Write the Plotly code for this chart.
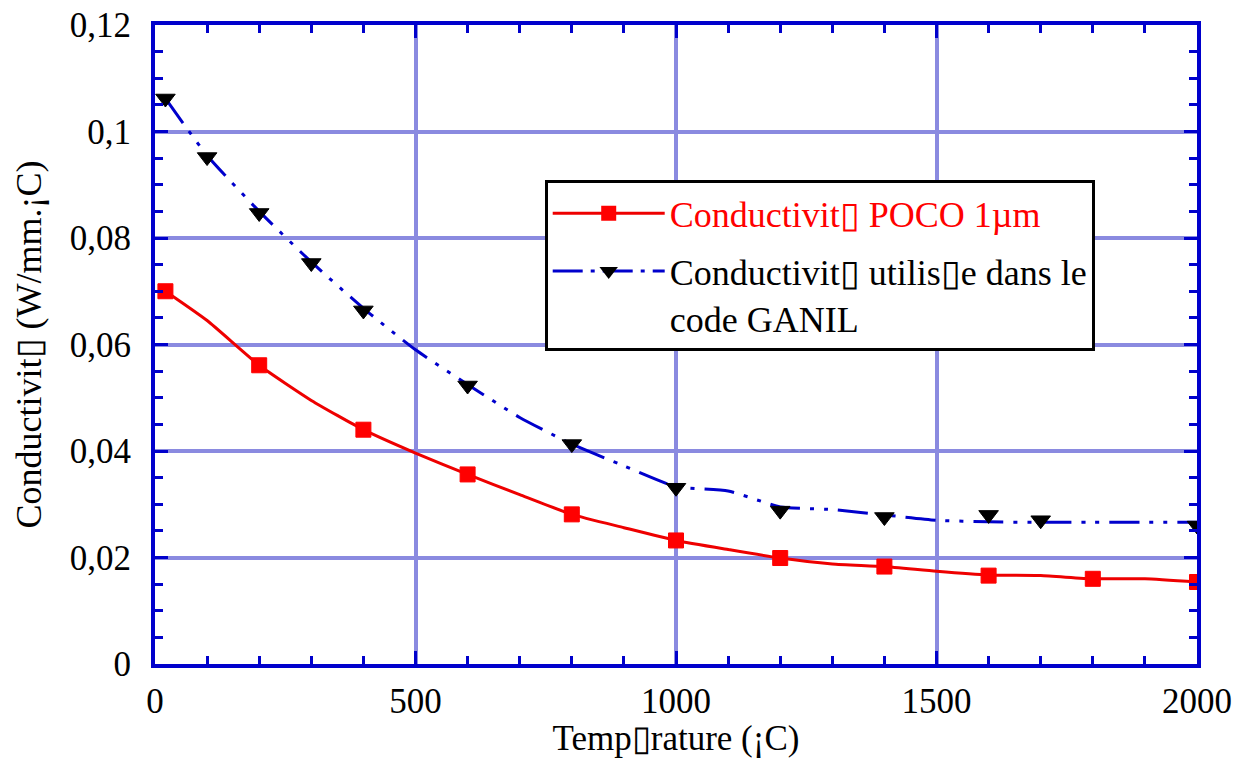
import plotly.graph_objects as go

# Red series: conductivity POCO 1um
poco_line_t = [20, 100, 200, 300, 400, 500, 600, 700, 800, 900, 1000, 1100, 1200,
               1300, 1400, 1500, 1600, 1700, 1800, 1900, 2000]
poco_line_k = [0.0700, 0.0645, 0.0561, 0.0495, 0.0440, 0.0396, 0.0356, 0.0318, 0.0281,
               0.0256, 0.0232, 0.0215, 0.0199, 0.0188, 0.0183, 0.0174, 0.0167, 0.0166,
               0.0160, 0.0160, 0.0154]
poco_mark_t = [20, 200, 400, 600, 800, 1000, 1200, 1400, 1600, 1800, 2000]
poco_mark_k = [0.0700, 0.0561, 0.0440, 0.0356, 0.0281, 0.0232, 0.0199, 0.0183, 0.0166,
               0.0160, 0.0154]

# Blue series: conductivity used in GANIL code
ganil_line_t = [20, 100, 200, 300, 400, 500, 600, 700, 800, 900, 1000, 1100, 1200,
                1300, 1400, 1500, 1600, 1700, 1800, 1900, 2000]
ganil_line_k = [0.1062, 0.0955, 0.0850, 0.0755, 0.0668, 0.0590, 0.0525, 0.0463, 0.0413,
                0.0372, 0.0333, 0.0325, 0.0295, 0.0290, 0.0280, 0.0270, 0.0267, 0.0266,
                0.0266, 0.0266, 0.0266]
ganil_mark_t = [20, 100, 200, 300, 400, 600, 800, 1000, 1200, 1400, 1600, 1700, 2000]
ganil_mark_k = [0.1062, 0.0952, 0.0847, 0.0753, 0.0664, 0.0523, 0.0413, 0.0331, 0.0288,
                0.0276, 0.0280, 0.0270, 0.0260]

y_tickvals = [0, 0.02, 0.04, 0.06, 0.08, 0.10, 0.12]
y_ticktext = ["0", "0,02", "0,04", "0,06", "0,08", "0,1", "0,12"]
x_tickvals = [0, 500, 1000, 1500, 2000]
x_ticktext = ["0", "500", "1000", "1500", "2000"]

name_poco = '<span style="color:#ff0000">Conductivit▯ POCO 1µm</span>'
name_ganil = "Conductivit▯ utilis▯e dans le<br>code GANIL"

RED = "#ee0000"
BLUE = "#0000cc"
GRID = "#8a8ae0"
FONT = "Liberation Serif, Times New Roman, serif"

fig = go.Figure()

fig.add_trace(go.Scatter(x=poco_line_t, y=poco_line_k, mode="lines",
                         line=dict(color=RED, width=3, shape="spline", smoothing=0.5),
                         showlegend=False, hoverinfo="skip", legendgroup="a"))
fig.add_trace(go.Scatter(x=poco_mark_t, y=poco_mark_k, mode="markers",
                         marker=dict(symbol="square", size=15, color="#ff0000",
                                     line=dict(color="#ff0000", width=1)),
                         showlegend=False, legendgroup="a"))
# legend proxy
fig.add_trace(go.Scatter(x=[None], y=[None], mode="lines+markers",
                         line=dict(color=RED, width=3),
                         marker=dict(symbol="square", size=15, color="#ff0000"),
                         name=name_poco, legendgroup="a"))

fig.add_trace(go.Scatter(x=ganil_line_t, y=ganil_line_k, mode="lines",
                         line=dict(color=BLUE, width=3, shape="spline", smoothing=0.5,
                                   dash="30px,10px,4px,10px,4px,10px"),
                         showlegend=False, hoverinfo="skip", legendgroup="b"))
fig.add_trace(go.Scatter(x=ganil_mark_t, y=ganil_mark_k, mode="markers",
                         marker=dict(symbol="triangle-down", size=17, color="black",
                                     line=dict(color="black", width=1)),
                         showlegend=False, legendgroup="b"))
fig.add_trace(go.Scatter(x=[None], y=[None], mode="lines+markers",
                         line=dict(color=BLUE, width=3, dash="30px,8px,4px,8px"),
                         marker=dict(symbol="triangle-down", size=17, color="black"),
                         name=name_ganil, legendgroup="b"))

axis_common = dict(
    showline=True, linecolor=BLUE, linewidth=4, mirror="ticks",
    showgrid=True, gridcolor=GRID, gridwidth=4,
    ticks="inside", ticklen=13, tickwidth=3, tickcolor=BLUE,
    zeroline=False, automargin=False,
    tickfont=dict(family=FONT, size=35, color="black"),
)

fig.update_xaxes(
    **axis_common,
    range=[0, 2000], tickvals=x_tickvals, ticktext=x_ticktext,
    ticklabelstandoff=3,
    minor=dict(dtick=100, ticks="inside", ticklen=8, tickwidth=3, tickcolor=BLUE,
               showgrid=False),
    title=dict(text="Temp▯rature (¡C)", font=dict(family=FONT, size=35, color="black"),
               standoff=2),
)
fig.update_yaxes(
    **axis_common,
    range=[0, 0.12], tickvals=y_tickvals, ticktext=y_ticktext,
    ticklabelstandoff=13,
    minor=dict(dtick=0.005, tick0=0, ticks="inside", ticklen=8, tickwidth=3,
               tickcolor=BLUE, showgrid=False),
    title=dict(text="Conductivit▯ (W/mm.¡C)", font=dict(family=FONT, size=36, color="black"),
               standoff=18),
)

fig.update_layout(
    autosize=True,
    margin=dict(l=155, r=44, t=25, b=94),
    paper_bgcolor="white", plot_bgcolor="white",
    font=dict(family=FONT, size=36, color="black"),
    legend=dict(x=0.374, y=0.757, xanchor="left", yanchor="top",
                bgcolor="white", bordercolor="black", borderwidth=3,
                font=dict(family=FONT, size=36, color="black"),
                itemwidth=112, valign="top", tracegroupgap=8),
)

fig.write_html("out.html", default_width="100%", default_height="100%",
               post_script="document.body.style.margin='0';document.documentElement.style.height='100%';document.body.style.height='100%';window.dispatchEvent(new Event('resize'));",
               config={"responsive": True, "displayModeBar": False})
